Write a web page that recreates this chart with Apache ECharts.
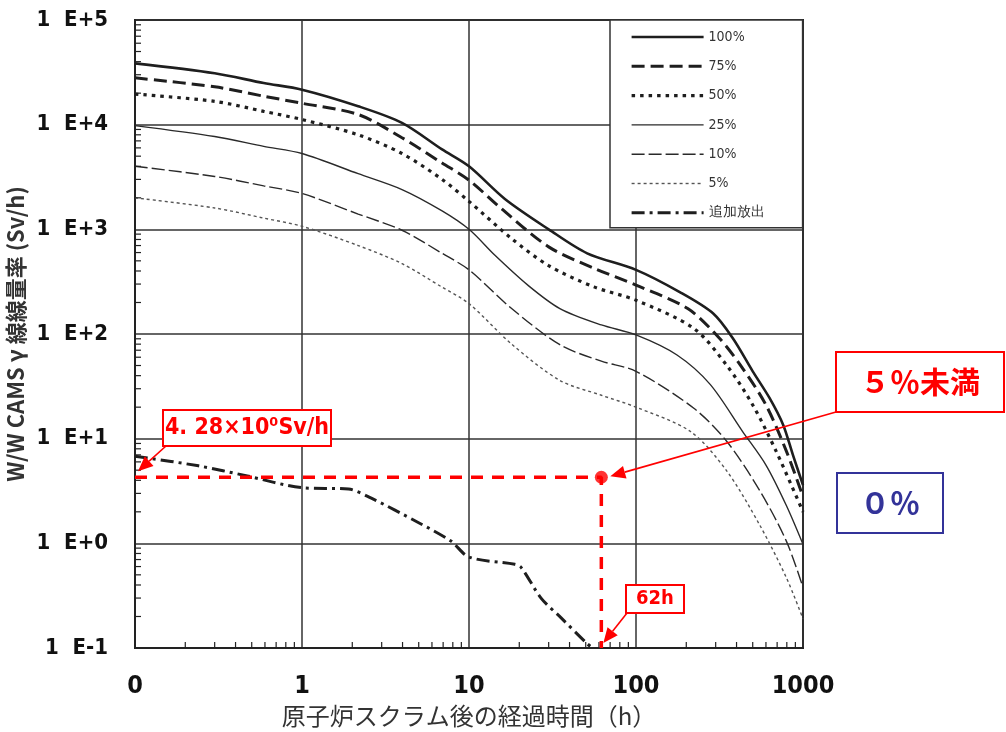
<!DOCTYPE html>
<html><head><meta charset="utf-8">
<script src="https://cdn.jsdelivr.net/npm/echarts@6/dist/echarts.min.js"></script>
<style>html,body{margin:0;padding:0;background:#fff}#c{width:1006px;height:732px}</style>
</head><body><div id="c"></div>
<script>
// ---- data ----
const xTickLabels = ['0', '1', '10', '100', '1000'];          // at 0.1, 1, 10, 100, 1000 h
const yTickLabels = ['1  E-1', '1  E+0', '1  E+1', '1  E+2', '1  E+3', '1  E+4', '1  E+5'];
const seriesNames = ['100%', '75%', '50%', '25%', '10%', '5%', '追加放出'];

const s100 = [[0.1,38500],[0.3,31000],[0.59,25000],[1,21600],[2.17,15000],[3.97,10400],[6.9,5800],[10,4000],[16.4,1950],[30,1000],[51,590],[100,410],[184,250],[290,157],[380,91],[500,44],[630,24.5],[760,13.6],[870,7],[1000,3.6]];
const s75  = [[0.1,28000],[0.3,23000],[0.59,18700],[1,16000],[2.17,12500],[3.97,7500],[6.9,4300],[10,2950],[15.6,1580],[30,680],[56,425],[100,293],[204,175],[316,91],[435,47],[600,21],[795,7.6],[1000,2.8]];
const s50  = [[0.1,19600],[0.3,16700],[0.59,13400],[1,11200],[2.17,8000],[3.97,5300],[6.9,3000],[10,1850],[18,815],[30,450],[56,282],[100,210],[222,113],[350,50],[500,21],[690,7.6],[1000,2.0]];
const s25  = [[0.1,9800],[0.3,7700],[0.59,6200],[1,5300],[2.17,3400],[3.97,2400],[6.9,1500],[10,1000],[14.3,565],[22.5,293],[35,175],[62,122],[100,98],[176,63],[278,33],[435,11.7],[600,5.6],[795,2.3],[1000,0.98]];
const s10  = [[0.1,4000],[0.3,3200],[0.59,2600],[1,2200],[2.17,1400],[3.97,980],[6.9,590],[10,410],[18,175],[35,79],[62,55],[100,44],[222,19.5],[350,9.4],[550,3.2],[795,1.05],[1000,0.38]];
const s5   = [[0.1,2000],[0.3,1600],[0.59,1280],[1,1070],[2.17,700],[3.97,470],[6.9,280],[10,195],[18,80],[35,36],[62,26],[100,20],[212,11.7],[350,4.9],[550,1.5],[795,0.47],[1000,0.19]];
const sExtra = [[0.1,6.8],[0.24,5.5],[0.47,4.4],[1,3.4],[1.9,3.3],[2.6,2.7],[4.9,1.6],[7.8,1.05],[10,0.74],[18.8,0.63],[20.5,0.59],[27,0.3],[35.5,0.195],[51,0.11],[55,0.1]];

const refValue = 4.28;   // Sv/h
const refHour = 62;      // h
const xMin = 0.1, xMax = 1000, yMin = 0.1, yMax = 100000;
const minorMantissa = [2,3,4,5,6,7,8,9];

// ---- chart ----
const NARROW = "'Liberation Sans Narrow','DejaVu Sans Condensed','Liberation Sans',sans-serif";
const CJK = "'Noto Sans CJK JP','Noto Sans',sans-serif";
const chart = echarts.init(document.getElementById('c'), null, {renderer: 'canvas'});

const ink = '#1e1e1e';
const styles = [
  {width: 2.6, type: 'solid', color: ink},
  {width: 3, type: [13, 6], color: ink},
  {width: 3.2, type: [3.5, 5], color: ink},
  {width: 1.4, type: 'solid', color: '#2a2a2a'},
  {width: 1.4, type: [13, 4], color: '#2a2a2a'},
  {width: 1.4, type: [3, 3], color: '#555'},
  {width: 3, type: [13, 5, 3, 5], color: ink}
];
const datasets = [s100, s75, s50, s25, s10, s5, sExtra];

const yTickData = [], xTickData = [];
for (let d = Math.round(Math.log10(yMin)); d < Math.round(Math.log10(yMax)); d++)
  for (const m of minorMantissa) yTickData.push([xMin, m * Math.pow(10, d)]);
for (let d = Math.round(Math.log10(xMin)); d < Math.round(Math.log10(xMax)); d++)
  for (const m of minorMantissa) xTickData.push([m * Math.pow(10, d), yMin]);

const series = datasets.map((d, i) => ({
  name: seriesNames[i], type: 'line', data: d, symbol: 'none', smooth: 0.3,
  lineStyle: styles[i], itemStyle: {color: styles[i].color}, z: 3, silent: true
}));
series.push({
  name: 'ref', type: 'line', data: [[xMin, refValue], [refHour, refValue], [refHour, yMin]],
  symbol: 'none', clip: false, z: 6, silent: true,
  lineStyle: {color: '#ff0000', width: 3.5, type: [12, 9]}
});
series.push({
  name: 'refPoint', type: 'scatter', data: [[refHour, refValue]], symbolSize: 13, z: 7,
  itemStyle: {color: '#ff0000'}, silent: true
});
series.push({
  name: 'yMinor', type: 'custom', data: yTickData, clip: false, silent: true, z: 4,
  renderItem: (p, api) => {
    const c = api.coord([api.value(0), api.value(1)]);
    return {type: 'line', shape: {x1: c[0], y1: c[1], x2: c[0] + 6, y2: c[1]}, style: {stroke: '#222', lineWidth: 1.2}};
  }
});
series.push({
  name: 'xMinor', type: 'custom', data: xTickData, clip: false, silent: true, z: 4,
  renderItem: (p, api) => {
    const c = api.coord([api.value(0), api.value(1)]);
    return {type: 'line', shape: {x1: c[0], y1: c[1], x2: c[0], y2: c[1] - 6}, style: {stroke: '#222', lineWidth: 1.2}};
  }
});

chart.setOption({
  animation: false,
  backgroundColor: '#fff',
  grid: {left: 135, right: 203, top: 20, bottom: 84, containLabel: false, outerBoundsMode: 'none',
         show: true, borderColor: '#222', borderWidth: 2},
  legend: {
    data: seriesNames, orient: 'vertical', left: 610, top: 20,
    padding: [10, 38, 8, 20], itemWidth: 72, itemHeight: 14, itemGap: 15.3,
    backgroundColor: '#fff', borderColor: '#333', borderWidth: 1.5, borderRadius: 0,
    itemStyle: {color: 'rgba(0,0,0,0)', borderWidth: 0, opacity: 0},
    lineStyle: {width: 'inherit'},
    textStyle: {fontSize: 14, color: '#333', fontFamily: NARROW},
    selectedMode: false, z: 10
  },
  xAxis: {
    type: 'log', logBase: 10, min: xMin, max: xMax, splitNumber: 4,
    name: '原子炉スクラム後の経過時間（h）', nameLocation: 'middle', nameGap: 56,
    nameTextStyle: {fontSize: 24, color: '#333', fontFamily: CJK},
    axisLine: {lineStyle: {color: '#222', width: 2}},
    axisTick: {show: false},
    axisLabel: {
      formatter: v => xTickLabels[Math.round(Math.log10(v)) + 1],
      fontSize: 25, fontWeight: 'bold', color: '#111', fontFamily: NARROW, margin: 26
    },
    splitLine: {show: true, lineStyle: {color: '#333', width: 1.5}}
  },
  yAxis: {
    type: 'log', logBase: 10, min: yMin, max: yMax, splitNumber: 6,
    name: 'W/W CAMS γ 線線量率 (Sv/h)', nameLocation: 'middle', nameGap: 108, nameRotate: 90,
    nameMoveOverlap: false,
    nameTextStyle: {fontSize: 22, color: '#333', fontWeight: 'bold', fontFamily: CJK},
    axisLine: {lineStyle: {color: '#222', width: 2}},
    axisTick: {show: false},
    axisLabel: {
      formatter: v => yTickLabels[Math.round(Math.log10(v)) + 1],
      fontSize: 22, fontWeight: 'bold', color: '#111', fontFamily: NARROW, margin: 27
    },
    splitLine: {show: true, lineStyle: {color: '#333', width: 1.5}}
  },
  series: series
});

// ---- annotations (boxes + arrows) ----
function arrow(from, to, color) {
  const dx = to[0] - from[0], dy = to[1] - from[1];
  const L = Math.hypot(dx, dy), ux = dx / L, uy = dy / L;
  const hl = 15, hw = 6.5;
  const bx = to[0] - ux * hl, by = to[1] - uy * hl;
  return [
    {type: 'line', z: 20, shape: {x1: from[0], y1: from[1], x2: bx, y2: by}, style: {stroke: color, lineWidth: 1.6}},
    {type: 'polygon', z: 20, shape: {points: [to, [bx - uy * hw, by + ux * hw], [bx + uy * hw, by - ux * hw]]}, style: {fill: color}}
  ];
}
function box(x, y, w, h, text, color, font) {
  return {
    type: 'group', z: 20, children: [
      {type: 'rect', shape: {x, y, width: w, height: h}, style: {fill: '#fff', stroke: color, lineWidth: 2}},
      {type: 'text', x: x + w / 2, y: y + h / 2, style: {text, fill: color, font, align: 'center', verticalAlign: 'middle'}}
    ]
  };
}
const pLeft = chart.convertToPixel({gridIndex: 0}, [xMin, refValue]);
const pDot = chart.convertToPixel({gridIndex: 0}, [refHour, refValue]);
const pBottom = chart.convertToPixel({gridIndex: 0}, [refHour, yMin]);
const red = '#ff0000', blue = '#333399';
chart.setOption({
  graphic: [
    box(163, 410, 168, 36, '4. 28×10⁰Sv/h', red, "bold 23px " + NARROW),
    box(836, 352, 168, 60, '５％未満', red, "bold 30px " + CJK),
    box(837, 473, 106, 60, '０％', blue, "bold 30px " + CJK),
    box(626, 585, 58, 28, '62h', red, "bold 20px " + NARROW),
    ...arrow([166, 446], [pLeft[0] + 3, pLeft[1] - 6], red),
    ...arrow([836, 412], [pDot[0] + 9, pDot[1] - 1], red),
    ...arrow([627, 613], [pBottom[0] + 2, pBottom[1] - 5], red)
  ]
});
</script></body></html>
